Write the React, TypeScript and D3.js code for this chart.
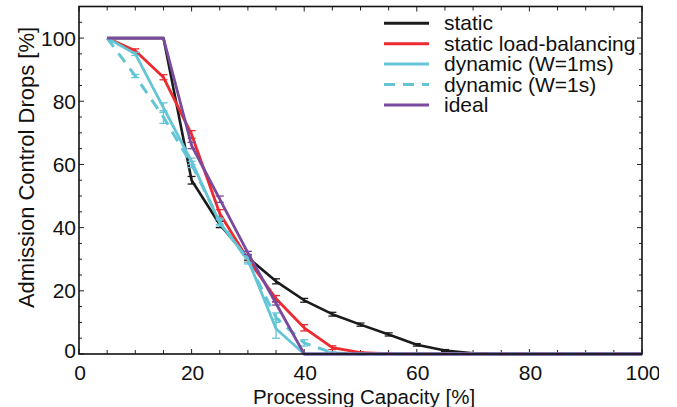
import React from "react";
import * as d3 from "d3";

// processing capacity steps (%)
const capacity = [5, 10, 15, 20, 25, 30, 35, 40, 45, 50, 55, 60, 65, 70, 75, 80, 85, 90, 95, 100];

// admission control drops (%)
const staticDrops = [100, 100, 100, 55, 41, 30.5, 23, 17, 12.6, 9.3, 6.2, 2.9, 1.1, 0.2, 0, 0, 0, 0, 0, 0];
const staticLbDrops = [100, 96, 87.6, 69.5, 44.5, 30, 17.5, 8.3, 2, 0.4, 0.1, 0, 0, 0, 0, 0, 0, 0, 0, 0];
const dyn1msDrops = [100, 95, 78, 61, 41.5, 30, 8, 0, 0, 0, 0, 0, 0, 0, 0, 0, 0, 0, 0, 0];
const dyn1sDrops = [100, 88, 75, 60, 42, 29.5, 11.5, 3.5, 0.4, 0, 0, 0, 0, 0, 0, 0, 0, 0, 0, 0];
const idealDrops = [100, 100, 100, 66, 49, 32, 16, 0, 0, 0, 0, 0, 0, 0, 0, 0, 0, 0, 0, 0];

// error bar half-widths
const staticErr = [0, 0, 0, 1.2, 1, 0.8, 0.8, 0.6, 0.6, 0.5, 0.5, 0.4, 0.3, 0.1, 0, 0, 0, 0, 0, 0];
const staticLbErr = [0, 0.6, 0.8, 1.2, 1.2, 1, 1, 1, 0.6, 0.3, 0.1, 0, 0, 0, 0, 0, 0, 0, 0, 0];
const dyn1msErr = [0, 0.5, 1.5, 1, 1, 1, 3, 0, 0, 0, 0, 0, 0, 0, 0, 0, 0, 0, 0, 0];
const dyn1sErr = [0, 0.5, 2, 1, 1, 1, 1.5, 1, 0.3, 0, 0, 0, 0, 0, 0, 0, 0, 0, 0, 0];
const idealErr = [0, 0, 0, 1, 1, 0.5, 0.5, 0, 0, 0, 0, 0, 0, 0, 0, 0, 0, 0, 0, 0];

const seriesNames = ["static", "static load-balancing", "dynamic (W=1ms)", "dynamic (W=1s)", "ideal"];
const seriesValues = [staticDrops, staticLbDrops, dyn1msDrops, dyn1sDrops, idealDrops];
const seriesErrors = [staticErr, staticLbErr, dyn1msErr, dyn1sErr, idealErr];
const seriesColors = ["#1b1b1b", "#ec2a30", "#63c5d5", "#63c5d5", "#7a4a9e"];
const seriesDash = [null, null, null, "11,8", null];
const seriesWidth = [2.6, 2.8, 2.8, 3, 2.8];

const xTicks = [0, 20, 40, 60, 80, 100];
const yTicks = [0, 20, 40, 60, 80, 100];

const W = 677;
const H = 407;
const FONT = "'Liberation Sans', Arial, Helvetica, sans-serif";

export default function App() {
  const x = d3.scaleLinear().domain([0, 100]).range([79, 642]);
  const y = d3.scaleLinear().domain([0, 110]).range([354, 6.5]);

  const line = d3
    .line<[number, number]>()
    .x((d) => x(d[0]))
    .y((d) => y(d[1]));

  const xMinor = d3.range(0, 101, 5);
  const yMinor = d3.range(0, 111, 5);

  return (
    <svg
      width={W}
      height={H}
      style={{ position: "absolute", left: 0, top: 0, background: "#fff" }}
      fontFamily={FONT}
    >
      <defs>
        <clipPath id="pageClip">
          <rect x={0} y={0} width={659} height={H} />
        </clipPath>
      </defs>

      {/* ticks on all four sides, pointing inward */}
      <g stroke="#222" strokeWidth={1}>
        {xMinor.map((v) => (
          <g key={`xt-${v}`}>
            <line x1={x(v)} x2={x(v)} y1={y(0)} y2={y(0) - (v % 20 === 0 ? 5 : 4)} />
            <line x1={x(v)} x2={x(v)} y1={y(110)} y2={y(110) + (v % 20 === 0 ? 5 : 4)} />
          </g>
        ))}
        {yMinor.map((v) => (
          <g key={`yt-${v}`}>
            <line x1={x(0)} x2={x(0) + (v % 20 === 0 ? 5 : 3)} y1={y(v)} y2={y(v)} />
            <line x1={x(100)} x2={x(100) - (v % 20 === 0 ? 5 : 3)} y1={y(v)} y2={y(v)} />
          </g>
        ))}
      </g>

      {/* series */}
      {seriesValues.map((vals, si) => {
        const pts: [number, number][] = capacity.map((c, i) => [c, vals[i]]);
        return (
          <g key={`s-${si}`}>
            <path
              d={line(pts) || ""}
              fill="none"
              stroke={seriesColors[si]}
              strokeWidth={seriesWidth[si]}
              strokeDasharray={seriesDash[si] || undefined}
              strokeLinejoin="round"
            />
            {capacity.map((c, i) => {
              const e = seriesErrors[si][i];
              if (e <= 0) return null;
              const cx = x(c);
              return (
                <g key={`e-${i}`} stroke={seriesColors[si]} strokeWidth={1.3}>
                  <line x1={cx} x2={cx} y1={y(vals[i] - e)} y2={y(vals[i] + e)} />
                  <line x1={cx - 4} x2={cx + 4} y1={y(vals[i] - e)} y2={y(vals[i] - e)} />
                  <line x1={cx - 4} x2={cx + 4} y1={y(vals[i] + e)} y2={y(vals[i] + e)} />
                </g>
              );
            })}
          </g>
        );
      })}

      {/* frame */}
      <rect
        x={x(0)}
        y={y(110)}
        width={x(100) - x(0)}
        height={y(0) - y(110)}
        fill="none"
        stroke="#111"
        strokeWidth={1.6}
      />

      {/* tick labels */}
      <g fontSize={21} fill="#111" clipPath="url(#pageClip)">
        {xTicks.map((v) => (
          <text key={`xl-${v}`} x={x(v) + 1} y={380} textAnchor="middle">
            {v}
          </text>
        ))}
        {yTicks.map((v) => (
          <text key={`yl-${v}`} x={x(0) - 3} y={y(v) + 7.5 - (v === 0 ? 4 : 0)} textAnchor="end">
            {v}
          </text>
        ))}
      </g>

      {/* axis titles */}
      <text x={364} y={403.5} fontSize={20.5} textAnchor="middle" fill="#111">
        Processing Capacity [%]
      </text>
      <text
        transform={`translate(33.5, 167.5) rotate(-90)`}
        fontSize={22}
        textAnchor="middle"
        fill="#111"
      >
        Admission Control Drops [%]
      </text>

      {/* legend */}
      <g>
        {seriesNames.map((name, i) => {
          const ly = 23.3 + i * 20.4;
          return (
            <g key={`lg-${i}`}>
              <line
                x1={384}
                x2={429}
                y1={ly}
                y2={ly}
                stroke={seriesColors[i]}
                strokeWidth={3}
                strokeDasharray={seriesDash[i] || undefined}
              />
              <text x={444} y={ly + 7} fontSize={21} fill="#111">
                {name}
              </text>
            </g>
          );
        })}
      </g>
    </svg>
  );
}
